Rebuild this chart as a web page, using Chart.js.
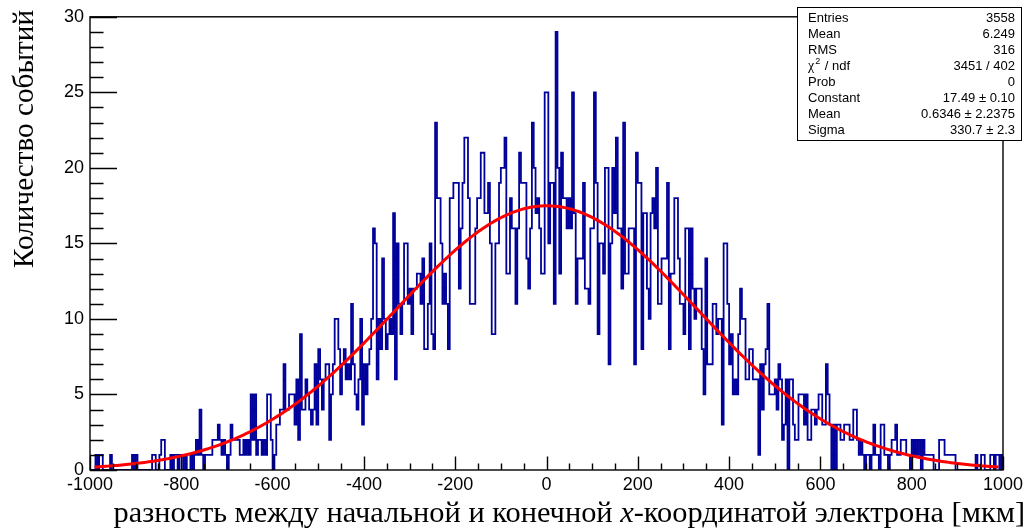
<!DOCTYPE html>
<html>
<head>
<meta charset="utf-8">
<script src="https://cdn.jsdelivr.net/npm/chart.js@4.4.0/dist/chart.umd.min.js"></script>
<style>
  html, body { margin: 0; padding: 0; background: #fff; }
  #wrap { position: relative; width: 1029px; height: 532px; }
</style>
</head>
<body>
<div id="wrap"><canvas id="hist"></canvas></div>
<script>
// histogram binning: 500 bins of 4 um between -1000 and 1000
const xMin = -1000;
const xMax = 1000;
const binWidth = 4;

// bin contents, 100 bins per array
const countsA = [ // -1000 .. -600
  0,0,0,1,0,1,1,0,0,0,  0,1,0,0,0,0,0,0,0,0,  0,0,0,1,0,1,0,0,0,0,  0,0,0,0,1,1,0,0,1,2,
  2,0,0,0,1,0,1,1,0,1,  1,0,1,0,0,1,0,1,2,1,  4,1,0,1,1,1,1,2,2,2,  3,2,1,2,1,0,1,3,2,2,
  2,2,1,1,2,1,2,1,5,2,  5,1,2,2,1,2,1,5,5,2
];
const countsB = [ // -600 .. -200
  0,1,3,3,4,4,7,4,4,5,  5,5,3,6,2,9,4,4,6,5,  4,3,4,7,3,8,6,4,6,7,  7,2,5,7,10,10,8,5,7,8,
  6,7,6,11,7,5,4,6,10,3,  7,5,7,8,10,16,15,6,10,8,  14,10,8,9,10,9,17,6,15,11,
  9,11,15,15,11,12,9,12,12,13,  13,11,14,8,8,11,15,9,8,23,  18,18,15,11,13,11,8,18,18,19
];
const countsC = [ // -200 .. 200
  19,19,12,16,19,22,22,18,11,11,  11,16,18,18,21,21,17,17,19,15,  9,9,15,15,19,20,20,22,13,13,
  18,16,16,11,16,21,19,19,19,14,  12,16,23,20,17,18,16,13,13,25,  25,15,19,19,11,29,20,13,21,18,
  18,16,18,16,25,17,11,14,14,14,  19,12,12,11,16,16,25,19,9,15,  15,13,20,20,7,15,20,17,22,16,
  16,12,23,13,13,16,16,16,7,21
];
const countsD = [ // 200 .. 600
  19,19,8,17,17,12,10,17,18,16,  20,11,11,14,14,14,19,8,13,13,  18,18,14,11,11,9,16,16,8,16,
  12,10,12,12,12,8,5,14,7,7,  7,11,11,9,10,10,3,15,15,11,  7,9,5,6,5,9,12,10,10,6,
  6,8,8,6,6,6,1,7,4,7,  8,11,5,5,5,6,4,7,6,2,  3,6,0,6,6,3,2,2,5,5,  5,3,5,2,2,4,4,3,4,5
];
const countsE = [ // 600 .. 1000
  5,3,3,7,5,3,0,3,0,3,  3,2,2,3,3,3,2,2,4,4,  2,1,2,1,0,1,1,0,1,3,  1,1,0,3,3,1,1,0,1,2,
  2,3,1,1,2,2,2,1,1,0,  2,1,2,1,2,0,2,1,1,1,  1,1,0,0,0,2,2,2,1,1,  1,1,1,1,0,0,0,0,0,0,
  0,0,0,0,0,1,0,0,1,1,  0,0,0,1,1,0,1,1,0,1
];
const counts = [].concat(countsA, countsB, countsC, countsD, countsE);

// gaussian fit result
const fitConstant = 17.49;
const fitMean = 0.6346;
const fitSigma = 330.7;

// axis ticks
const xMajorStep = 200, xMinorStep = 50;
const yMax = 30, yMajorStep = 5, yMinorStep = 1;

// statistics box
const statLabels = ['Entries', 'Mean', 'RMS', 'chi2', 'Prob', 'Constant', 'Mean', 'Sigma'];
const statValues = ['3558', '6.249', '316', '3451 / 402', '0', '17.49 \u00b1 0.10', '0.6346 \u00b1 2.2375', '330.7 \u00b1 2.3'];

const yTitle = 'Количество событий';
const xTitleParts = ['разность между начальной и конечной ', 'x', '-координатой электрона [мкм]'];

// outline points: lower edge of every bin, closed down to zero at both ends
const histPoints = [{ x: xMin, y: 0 }];
counts.forEach((c, i) => histPoints.push({ x: xMin + i * binWidth, y: c }));
histPoints.push({ x: xMax, y: 0 });

const fitPoints = [];
for (let i = 0; i <= 400; i++) {
  const x = xMin + 10 + (xMax - xMin - 20) * i / 400;
  fitPoints.push({ x, y: fitConstant * Math.exp(-0.5 * Math.pow((x - fitMean) / fitSigma, 2)) });
}

const SANS = "'Liberation Sans', Arial, Helvetica, sans-serif";
const SERIF = "'Liberation Serif', 'Times New Roman', serif";

const frameAndTicks = {
  id: 'frameAndTicks',
  afterDatasetsDraw(chart) {
    const { ctx, chartArea: a, scales: { x, y } } = chart;
    ctx.save();
    ctx.strokeStyle = '#000';
    ctx.lineWidth = 1.4;
    ctx.strokeRect(a.left, a.top, a.right - a.left, a.bottom - a.top);
    ctx.beginPath();
    for (let v = xMin; v <= xMax; v += xMinorStep) {
      const px = Math.round(x.getPixelForValue(v)) + 0.5;
      const len = v % xMajorStep === 0 ? 13.5 : 6.5;
      ctx.moveTo(px, a.bottom);
      ctx.lineTo(px, a.bottom - len);
    }
    for (let v = 0; v <= yMax; v += yMinorStep) {
      const py = Math.round(y.getPixelForValue(v)) + 0.5;
      const len = v % yMajorStep === 0 ? 27 : 13.5;
      ctx.moveTo(a.left, py);
      ctx.lineTo(a.left + len, py);
    }
    ctx.stroke();
    ctx.restore();
  }
};

const titlesAndStats = {
  id: 'titlesAndStats',
  afterDraw(chart) {
    const { ctx } = chart;
    ctx.save();
    ctx.fillStyle = '#000';

    // y title, read bottom to top, ending at the top of the axis
    let size = 28;
    ctx.font = `${size}px ${SERIF}`;
    size = size * 258 / ctx.measureText(yTitle).width;
    ctx.font = `${size}px ${SERIF}`;
    ctx.translate(33, 10);
    ctx.rotate(-Math.PI / 2);
    ctx.textAlign = 'right';
    ctx.textBaseline = 'alphabetic';
    ctx.fillText(yTitle, 0, 0);
    ctx.setTransform(1, 0, 0, 1, 0, 0);

    // x title, right aligned to the end of the axis
    let xs = 28;
    const fonts = [`${xs}px ${SERIF}`, `italic ${xs}px ${SERIF}`, `${xs}px ${SERIF}`];
    let total = 0;
    xTitleParts.forEach((t, i) => { ctx.font = fonts[i]; total += ctx.measureText(t).width; });
    xs = xs * 912 / total;
    const fonts2 = [`${xs}px ${SERIF}`, `italic ${xs}px ${SERIF}`, `${xs}px ${SERIF}`];
    let cx = 1025;
    ctx.textAlign = 'left';
    const widths = xTitleParts.map((t, i) => { ctx.font = fonts2[i]; return ctx.measureText(t).width; });
    cx -= widths.reduce((s, w) => s + w, 0);
    xTitleParts.forEach((t, i) => {
      ctx.font = fonts2[i];
      ctx.fillText(t, cx, 522);
      cx += widths[i];
    });

    // statistics box
    const bx = 797.5, by = 7.5, bw = 224, bh = 133;
    ctx.fillStyle = '#fff';
    ctx.fillRect(bx, by, bw, bh);
    ctx.strokeStyle = '#000';
    ctx.lineWidth = 1;
    ctx.strokeRect(bx, by, bw, bh);
    ctx.fillStyle = '#000';
    const rowH = 16.1;
    statLabels.forEach((lab, i) => {
      const base = by + 14 + i * rowH;
      ctx.font = `13px ${SANS}`;
      ctx.textAlign = 'left';
      if (lab === 'chi2') {
        ctx.font = `14px ${SERIF}`;
        ctx.fillText('\u03c7', 808, base);
        let w = ctx.measureText('\u03c7').width;
        ctx.font = `9px ${SANS}`;
        ctx.fillText('2', 808 + w + 1, base - 6);
        w += ctx.measureText('2').width + 2;
        ctx.font = `13px ${SANS}`;
        ctx.fillText(' / ndf', 808 + w, base);
      } else {
        ctx.fillText(lab, 808, base);
      }
      ctx.font = `13px ${SANS}`;
      ctx.textAlign = 'right';
      ctx.fillText(statValues[i], 1015, base);
    });
    ctx.restore();
  }
};

new Chart(document.getElementById('hist'), {
  type: 'line',
  data: {
    datasets: [
      {
        label: 'fit',
        data: fitPoints,
        borderColor: '#ff0000',
        borderWidth: 3,
        pointRadius: 0,
        tension: 0,
        order: 0
      },
      {
        label: 'hist',
        data: histPoints,
        borderColor: '#00009a',
        borderWidth: 1.8,
        pointRadius: 0,
        stepped: 'before',
        order: 1
      }
    ]
  },
  options: {
    responsive: true,
    maintainAspectRatio: false,
    animation: false,
    layout: { padding: { left: 0, right: 26, top: 14, bottom: 0 } },
    plugins: { legend: { display: false }, tooltip: { enabled: false } },
    scales: {
      x: {
        type: 'linear',
        min: xMin,
        max: xMax,
        grid: { display: false, drawTicks: false },
        border: { display: false },
        afterFit: s => { s.height = 62; },
        ticks: {
          stepSize: xMajorStep,
          autoSkip: false,
          maxRotation: 0,
          padding: 4,
          color: '#000',
          font: { family: SANS, size: 18 },
          callback: v => String(v)
        }
      },
      y: {
        min: 0,
        max: yMax,
        grid: { display: false, drawTicks: false },
        border: { display: false },
        afterFit: s => { s.width = 90; },
        ticks: {
          stepSize: yMajorStep,
          padding: 6,
          color: '#000',
          font: { family: SANS, size: 18 }
        }
      }
    }
  },
  plugins: [frameAndTicks, titlesAndStats]
});
</script>
</body>
</html>
